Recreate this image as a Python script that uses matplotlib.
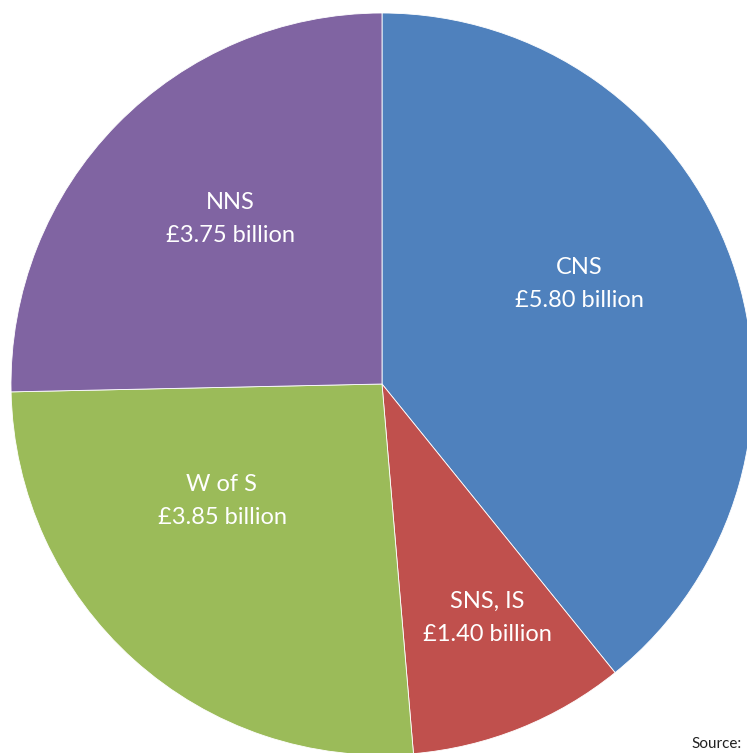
import matplotlib.pyplot as plt

plt.rcParams['font.family'] = ['Lato', 'DejaVu Sans']

# 投資額（十億ポンド）
regions = ["CNS", "SNS, IS", "W of S", "NNS"]
values = [5.80, 1.40, 3.85, 3.75]
colors = ["#4F81BD", "#C0504D", "#9BBB59", "#8064A2"]

# ラベル位置（ピクセル座標、左上原点）
label_pos = [(579, 284), (487, 618), (222, 501), (230, 219)]

W, H = 747, 753
fig = plt.figure(figsize=(W / 100, H / 100), dpi=100)
ax = fig.add_axes([0, 0, 1, 1])

cx, cy, r = 382, H - 384, 371
ax.pie(values, colors=colors, startangle=90, counterclock=False,
       center=(cx, cy), radius=r,
       wedgeprops=dict(edgecolor='white', linewidth=0.6))
ax.set_xlim(0, W)
ax.set_ylim(0, H)
ax.set_aspect('equal')
ax.axis('off')

for name, val, (px, py) in zip(regions, values, label_pos):
    ax.text(px, H - py, f"{name}\n£{val:.2f} billion", color='white',
            fontsize=17, ha='center', va='center', linespacing=1.75)

fig.text(691 / W, 2 / H, "Source:", fontsize=11, ha='left', va='bottom',
         color='#222222')

fig.savefig("out.png", dpi=100)
